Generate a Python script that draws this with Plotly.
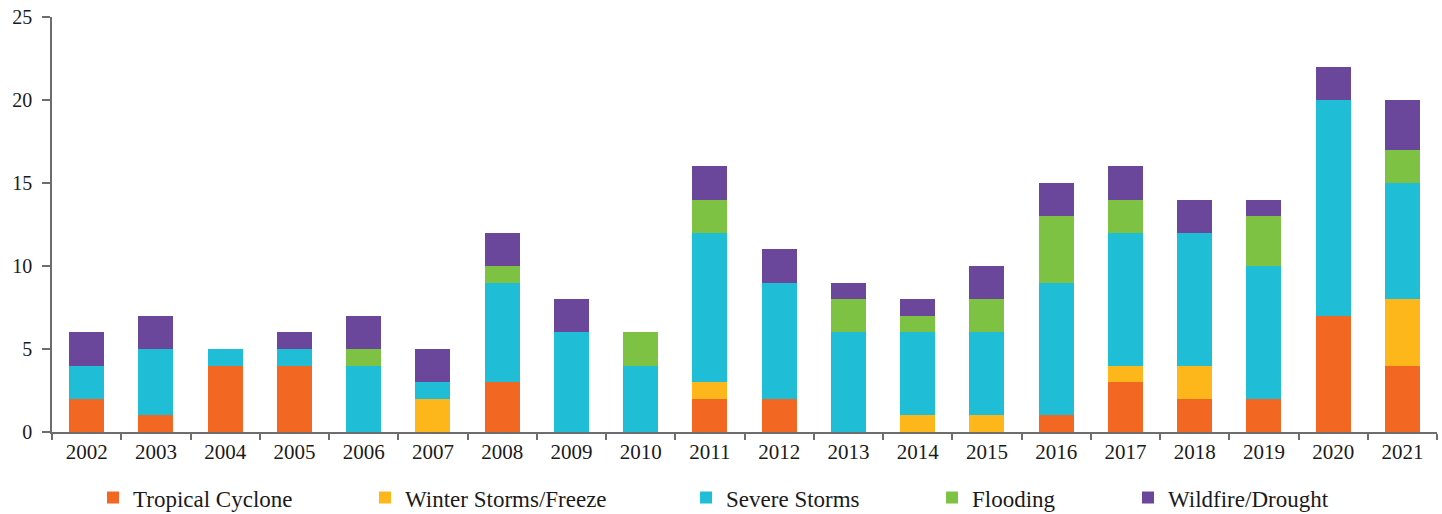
import plotly.graph_objects as go

years = [str(y) for y in range(2002, 2022)]
tropical_cyclone = [2, 1, 4, 4, 0, 0, 3, 0, 0, 2, 2, 0, 0, 0, 1, 3, 2, 2, 7, 4]
winter_storms = [0, 0, 0, 0, 0, 2, 0, 0, 0, 1, 0, 0, 1, 1, 0, 1, 2, 0, 0, 4]
severe_storms = [2, 4, 1, 1, 4, 1, 6, 6, 4, 9, 7, 6, 5, 5, 8, 8, 8, 8, 13, 7]
flooding = [0, 0, 0, 0, 1, 0, 1, 0, 2, 2, 0, 2, 1, 2, 4, 2, 0, 3, 0, 2]
wildfire = [2, 2, 0, 1, 2, 2, 2, 2, 0, 2, 2, 1, 1, 2, 2, 2, 2, 1, 2, 3]

series = [
    ("Tropical Cyclone", tropical_cyclone, "#F26722"),
    ("Winter Storms/Freeze", winter_storms, "#FDB71A"),
    ("Severe Storms", severe_storms, "#1FBED6"),
    ("Flooding", flooding, "#7DC242"),
    ("Wildfire/Drought", wildfire, "#6B479C"),
]
legend_x = [0.0296, 0.2260, 0.4578, 0.6354, 0.7769]

FONT = "Liberation Serif"
fig = go.Figure()
layout_legends = {}
for i, (name, vals, color) in enumerate(series):
    lname = "legend" if i == 0 else f"legend{i+1}"
    fig.add_trace(go.Bar(
        x=years, y=vals, name=name, marker_color=color,
        marker_line_width=0, legend=lname, showlegend=True,
    ))
    layout_legends[lname] = dict(
        x=legend_x[i], y=-0.158, xanchor="left", yanchor="middle",
        orientation="h", font=dict(family=FONT, size=23, color="#1a1a1a"),
        bgcolor="rgba(0,0,0,0)", itemwidth=30, tracegroupgap=0,
    )

fig.update_layout(
    barmode="stack",
    bargap=0.495,
    showlegend=True,
    width=1442, height=514,
    margin=dict(l=52, r=5, t=17, b=82, autoexpand=False),
    plot_bgcolor="white", paper_bgcolor="white",
    font=dict(family=FONT, size=20, color="#1a1a1a"),
    **layout_legends,
)
fig.update_xaxes(
    type="category", showline=True, linecolor="#6d6d70", linewidth=1.5,
    ticks="outside", tickson="boundaries", ticklen=6, tickcolor="#6d6d70",
    tickwidth=1.5, automargin=False,
    tickfont=dict(family=FONT, size=21, color="#1a1a1a"), showgrid=False,
)
fig.update_yaxes(
    range=[0, 25], dtick=5, showline=True, linecolor="#6d6d70", linewidth=1.5,
    ticks="outside", ticklen=8, tickcolor="#6d6d70", tickwidth=1.5,
    showgrid=False, automargin=False, ticklabelstandoff=6,
    tickfont=dict(family=FONT, size=20, color="#1a1a1a"), zeroline=False,
)
fig.write_html(
    "out.html",
    config={"displayModeBar": False},
    post_script="document.body.style.margin='0';document.body.style.overflow='hidden';",
)
